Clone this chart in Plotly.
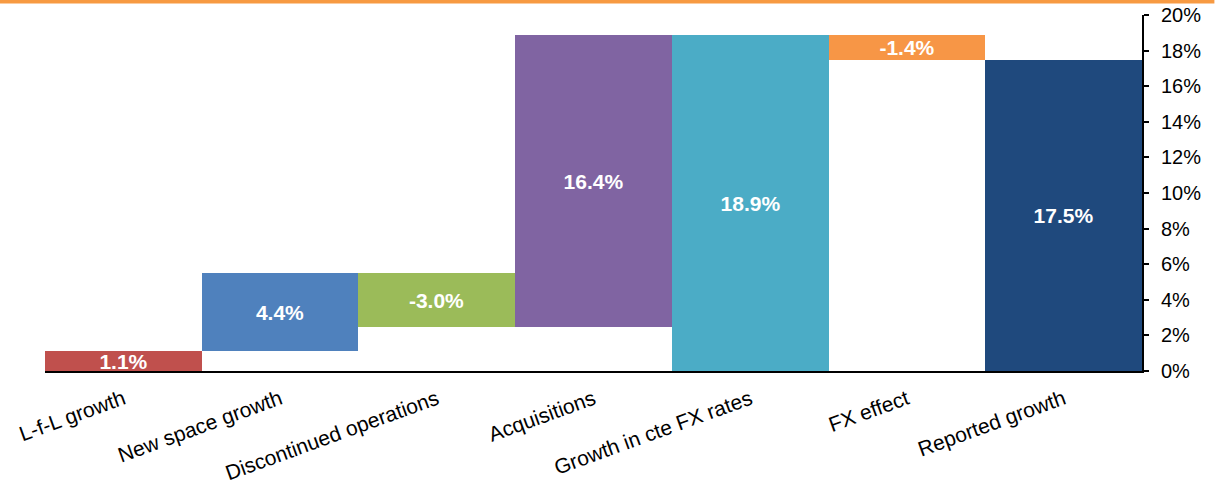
import plotly.graph_objects as go

categories = ["L-f-L growth", "New space growth", "Discontinued operations",
              "Acquisitions", "Growth in cte FX rates", "FX effect", "Reported growth"]
values = [1.1, 4.4, -3.0, 16.4, 18.9, -1.4, 17.5]
measures = ["relative", "relative", "relative", "relative", "total", "relative", "total"]
colors = ["#C0504D", "#4F81BD", "#9BBB59", "#8064A2", "#4BACC6", "#F79646", "#1F497D"]
y_ticks = [0, 2, 4, 6, 8, 10, 12, 14, 16, 18, 20]

bases, heights = [], []
running = 0.0
for v, m in zip(values, measures):
    if m == "total":
        bases.append(0.0)
        heights.append(v)
        running = v
    else:
        bases.append(running)
        heights.append(v)
        running += v

labels = [f"{v:.1f}%" for v in values]

FONT = "Liberation Sans, Arial, Helvetica, sans-serif"

fig = go.Figure(go.Bar(
    x=categories, y=heights, base=bases,
    marker=dict(color=colors, line=dict(width=0)),
    text=labels, textposition="inside", insidetextanchor="middle",
    textangle=0, constraintext="none",
    textfont=dict(family=FONT, size=21, color="white", weight="bold"),
    hoverinfo="skip",
))

fig.update_layout(
    width=1220, height=493,
    margin=dict(l=45, r=78, t=15, b=122),
    paper_bgcolor="white", plot_bgcolor="white",
    bargap=0, showlegend=False,
    font=dict(family=FONT, size=20, color="black"),
    xaxis=dict(showline=True, linecolor="black", linewidth=2, ticks="",
               tickangle=-20, showgrid=False, range=[-0.5, 6.5], automargin=False,
               tickfont=dict(size=21, color="black"), ticklabelstandoff=6),
    yaxis=dict(side="right", range=[0, 20], tickvals=y_ticks,
               ticktext=[f"{t}%" for t in y_ticks], automargin=False,
               showline=True, linecolor="black", linewidth=2,
               ticks="outside", ticklen=5, tickwidth=1.5, tickcolor="black",
               showgrid=False, zeroline=False, ticklabelstandoff=8,
               tickfont=dict(size=20, color="black")),
    shapes=[dict(type="line", xref="paper", yref="paper",
                 x0=-0.05, x1=1.066, y0=1.038, y1=1.038,
                 line=dict(color="#F79A42", width=4))],
)

fig.write_html("out.html")
